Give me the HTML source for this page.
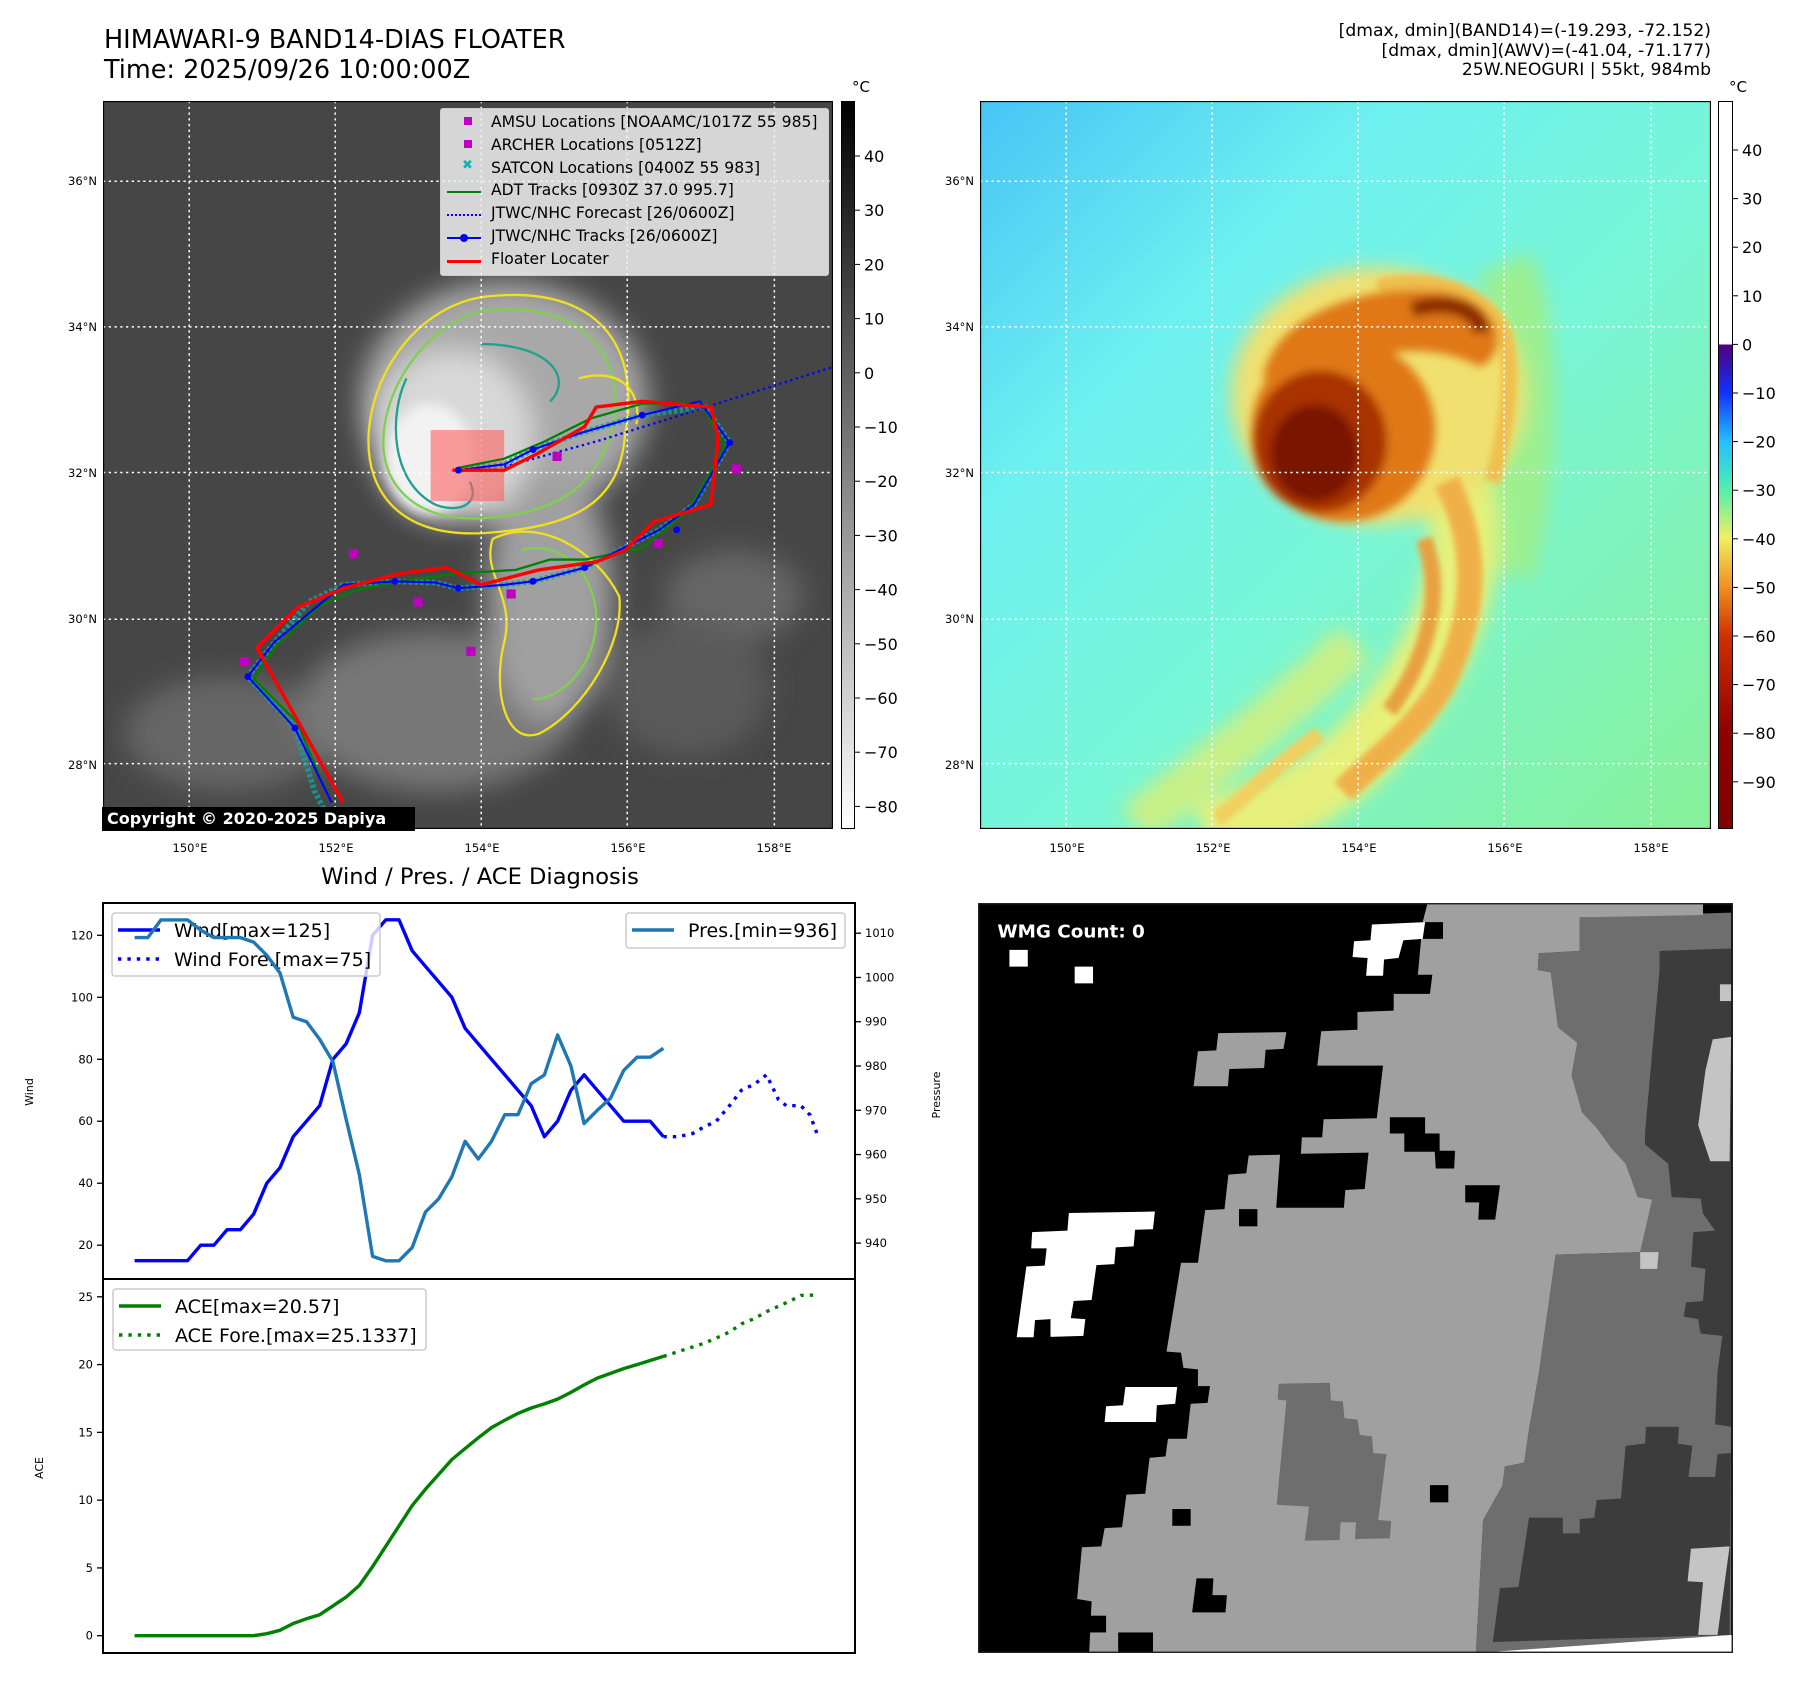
<!DOCTYPE html>
<html><head><meta charset="utf-8">
<style>
body{margin:0;background:#fff;}
#root{position:relative;width:1797px;height:1690px;overflow:hidden;background:#fff;font-family:"DejaVu Sans","Liberation Sans",sans-serif;}
.abs{position:absolute;}
svg text{font-family:"DejaVu Sans","Liberation Sans",sans-serif;}
</style></head>
<body>
<div id="root">

<div class="abs" style="left:104px;top:25px;font-size:25.5px;line-height:30px;color:#000;white-space:nowrap;">HIMAWARI-9 BAND14-DIAS FLOATER<br>Time: 2025/09/26 10:00:00Z</div>
<div class="abs" style="right:86px;top:22px;font-size:17.2px;line-height:19.5px;text-align:right;white-space:nowrap;">[dmax, dmin](BAND14)=(-19.293, -72.152)<br>[dmax, dmin](AWV)=(-41.04, -71.177)<br>25W.NEOGURI | 55kt, 984mb</div>

<!-- LEFT MAP -->
<svg class="abs" style="left:103px;top:101px" width="730" height="728" viewBox="91 88 635 635" preserveAspectRatio="none">
<defs>
<filter id="bl" x="-50%" y="-50%" width="200%" height="200%"><feGaussianBlur stdDeviation="12"/></filter>
<filter id="bl2" x="-50%" y="-50%" width="200%" height="200%"><feGaussianBlur stdDeviation="5"/></filter>
<clipPath id="c1"><rect x="91" y="88" width="635" height="635"/></clipPath>
</defs>
<g clip-path="url(#c1)">
<rect x="91" y="88" width="635" height="635" fill="#464646"/>
<g filter="url(#bl)">
<ellipse cx="200" cy="640" rx="90" ry="50" fill="#666"/>
<ellipse cx="380" cy="620" rx="120" ry="70" fill="#777"/>
<ellipse cx="640" cy="520" rx="60" ry="40" fill="#666"/>
<ellipse cx="600" cy="600" rx="70" ry="60" fill="#5a5a5a"/>
<ellipse cx="440" cy="350" rx="125" ry="105" fill="#a8a8a8"/>
<ellipse cx="480" cy="520" rx="55" ry="110" fill="#a0a0a0"/>
<ellipse cx="395" cy="380" rx="70" ry="75" fill="#d8d8d8"/>
</g>
<ellipse cx="375" cy="400" rx="38" ry="48" fill="#f2f2f2" filter="url(#bl2)"/>
<g fill="none" stroke-width="2">
<path d="M430,258 C520,250 560,300 545,380 C540,440 500,460 420,465 C350,468 320,430 322,380 C325,320 370,262 430,258Z" stroke="#f0e020"/>
<path d="M430,270 C510,265 545,310 535,370 C520,430 480,448 420,452 C360,455 332,420 335,380 C338,330 380,275 430,270Z" stroke="#80d050"/>
<path d="M420,300 C480,300 500,330 480,350 M355,330 C340,360 340,420 380,440 C400,448 420,440 410,420" stroke="#20a090"/>
<path d="M430,470 C470,450 520,480 540,520 C545,560 510,620 470,640 C440,650 430,600 440,560 C450,520 420,500 430,470Z" stroke="#f0e020"/>
<path d="M455,480 C490,470 520,500 520,540 C520,580 490,610 465,610" stroke="#80d050"/>
<path d="M505,330 C540,320 560,340 555,370" stroke="#f0e020"/>
</g>
<g stroke="#fff" stroke-width="1.3" stroke-dasharray="2,3">
<line x1="166" y1="88" x2="166" y2="723"/><line x1="293" y1="88" x2="293" y2="723"/><line x1="420" y1="88" x2="420" y2="723"/><line x1="547" y1="88" x2="547" y2="723"/><line x1="675" y1="88" x2="675" y2="723"/>
<line x1="91" y1="158" x2="726" y2="158"/><line x1="91" y1="285" x2="726" y2="285"/><line x1="91" y1="412" x2="726" y2="412"/><line x1="91" y1="540" x2="726" y2="540"/><line x1="91" y1="666" x2="726" y2="666"/>
</g>
<rect x="376" y="375" width="64" height="62" fill="#ff6060" opacity="0.6"/>
<g fill="none">
<polyline points="292,723 275,690 258,635 217,590 238,563 270,525 300,510 345,507 380,508 400,513 440,510 465,507 510,495 575,462 605,440 636,386 615,355 560,362 505,378 465,392 440,405 400,410" stroke="#11a0a0" stroke-width="5" stroke-dasharray="3,2" opacity="0.8"/>
<polyline points="285,690 260,630 222,592 240,565 280,528 310,515 360,505 400,500 450,497 480,488 510,488 560,478 600,445 632,390 612,352 560,352 515,365 475,385 440,400 400,408" stroke="#008000" stroke-width="2"/>
<polyline points="290,700 258,635 217,590 240,560 300,510 345,507 380,508 400,513 440,510 465,507 510,495 575,462 605,440 636,386 610,350 560,362 505,378 465,392 440,405 400,410" stroke="#0000ff" stroke-width="1.8"/>
<polyline points="440,407 520,385 600,360 726,320" stroke="#0000ff" stroke-width="2" stroke-dasharray="2,3"/>
<polyline points="300,700 250,610 225,565 260,530 300,513 350,500 390,495 420,510 470,497 520,490 545,480 570,455 620,440 626,382 620,355 560,350 520,355 510,372 470,395 440,410 395,410" stroke="#ff0000" stroke-width="3"/>
<g fill="#0000ff"><circle cx="217" cy="590" r="3"/><circle cx="258" cy="635" r="3"/><circle cx="345" cy="507" r="3"/><circle cx="400" cy="513" r="3"/><circle cx="465" cy="507" r="3"/><circle cx="510" cy="495" r="3"/><circle cx="590" cy="462" r="3"/><circle cx="636" cy="386" r="3"/><circle cx="560" cy="362" r="3"/><circle cx="465" cy="392" r="3"/><circle cx="400" cy="410" r="3"/></g>
<g fill="#c000c0"><rect x="305" y="479" width="8" height="8"/><rect x="407" y="564" width="8" height="8"/><rect x="482" y="394" width="8" height="8"/><rect x="638" y="405" width="8" height="8"/><rect x="570" y="470" width="8" height="8"/><rect x="442" y="514" width="8" height="8"/><rect x="210" y="573" width="8" height="8"/><rect x="361" y="521" width="8" height="8"/></g>
</g>
</g>
<rect x="91" y="88" width="635" height="635" fill="none" stroke="#000" stroke-width="2"/>
</svg>
<div class="abs" style="left:102px;top:807px;width:313px;height:24px;background:#000;color:#fff;font-weight:bold;font-size:16px;line-height:24px;padding-left:5px;box-sizing:border-box;white-space:nowrap;">Copyright © 2020-2025 Dapiya</div>

<!-- legend of left map -->
<div class="abs" style="left:440px;top:108px;width:387px;height:166px;background:rgba(240,240,240,0.85);border:1px solid #ccc;border-radius:3px;font-size:15.6px;">
<div style="position:absolute;left:23px;top:8px;width:8px;height:8px;background:#c000c0"></div>
<div style="position:absolute;left:23px;top:31px;width:8px;height:8px;background:#c000c0"></div>
<div style="position:absolute;left:21px;top:49px;color:#11b5b5;font-size:13px;font-weight:bold">✖</div>
<div style="position:absolute;left:6px;top:82px;width:34px;height:2px;background:#008000"></div>
<div style="position:absolute;left:6px;top:105px;width:34px;border-top:2px dotted #0000ff"></div>
<div style="position:absolute;left:6px;top:128px;width:34px;height:2px;background:#0000ff"></div>
<div style="position:absolute;left:19px;top:125px;width:8px;height:8px;border-radius:50%;background:#0000ff"></div>
<div style="position:absolute;left:6px;top:151px;width:34px;height:3px;background:#ff0000"></div>
<div style="position:absolute;left:50px;top:2px;line-height:22.8px;white-space:nowrap;">AMSU Locations [NOAAMC/1017Z 55 985]<br>ARCHER Locations [0512Z]<br>SATCON Locations [0400Z 55 983]<br>ADT Tracks [0930Z 37.0 995.7]<br>JTWC/NHC Forecast [26/0600Z]<br>JTWC/NHC Tracks [26/0600Z]<br>Floater Locater</div>
</div>

<!-- left colorbar -->
<div class="abs" style="left:841px;top:101px;width:14px;height:728px;border:1px solid #000;box-sizing:border-box;background:linear-gradient(#000,#fff);"></div>
<div class="abs" style="left:852px;top:78px;font-size:15px;">°C</div>
<svg class="abs" style="left:855px;top:0" width="60" height="860" id="cb1"></svg>

<!-- RIGHT MAP -->
<svg class="abs" style="left:980px;top:101px" width="731" height="728" viewBox="854 88 636 635" preserveAspectRatio="none">
<defs>
<linearGradient id="bg2" x1="0" y1="0" x2="1" y2="1">
<stop offset="0" stop-color="#48c4f6"/><stop offset="0.28" stop-color="#6ef0f0"/><stop offset="0.55" stop-color="#78f6d8"/><stop offset="1" stop-color="#88f098"/></linearGradient>
<filter id="b3" x="-50%" y="-50%" width="200%" height="200%"><feGaussianBlur stdDeviation="8"/></filter>
<filter id="b4" x="-50%" y="-50%" width="200%" height="200%"><feGaussianBlur stdDeviation="4"/></filter>
<filter id="b5" x="-50%" y="-50%" width="200%" height="200%"><feGaussianBlur stdDeviation="2.5"/></filter>
<clipPath id="c2"><rect x="854" y="88" width="636" height="635"/></clipPath>
</defs>
<g clip-path="url(#c2)">
<rect x="854" y="88" width="636" height="635" fill="url(#bg2)"/>
<g filter="url(#b3)">
<path d="M1310,230 C1340,300 1330,420 1310,500" stroke="#9cf090" stroke-width="50" fill="none"/>
<path d="M1250,390 C1300,460 1270,560 1200,640 C1150,700 1080,720 1050,730" stroke="#e6f07a" stroke-width="60" fill="none"/>
<path d="M1180,560 C1120,620 1050,670 990,720" stroke="#c8f088" stroke-width="40" fill="none"/>
<ellipse cx="1200" cy="345" rx="128" ry="112" fill="#f0e070"/>
</g>
<g filter="url(#b5)" fill="none" stroke="#f0b048">
<path d="M1260,420 C1290,480 1285,540 1255,600 C1230,640 1200,660 1170,690" stroke-width="22"/>
<path d="M1240,470 C1260,520 1240,580 1210,620" stroke="#e8a040" stroke-width="14"/>
<path d="M1150,640 C1120,660 1090,690 1060,715" stroke="#f0d060" stroke-width="14"/>
<path d="M1200,250 C1240,240 1290,250 1310,290 C1320,330 1310,380 1300,420" stroke="#f0c050" stroke-width="14"/>
</g>
<g filter="url(#b4)">
<path d="M1100,330 C1110,270 1200,245 1260,255 C1300,265 1320,300 1290,320 C1250,300 1200,300 1160,330Z" fill="#e07818"/>
<ellipse cx="1170" cy="375" rx="80" ry="80" fill="#e07818"/>
<ellipse cx="1150" cy="385" rx="58" ry="62" fill="#a83000"/>
<ellipse cx="1145" cy="395" rx="38" ry="42" fill="#7a1400"/>
<path d="M1230,270 C1260,260 1290,270 1290,290" stroke="#8a2a00" stroke-width="14" fill="none"/>
</g>
<g stroke="#fff" stroke-width="1.3" stroke-dasharray="2,3">
<line x1="929" y1="88" x2="929" y2="723"/><line x1="1056" y1="88" x2="1056" y2="723"/><line x1="1183" y1="88" x2="1183" y2="723"/><line x1="1310" y1="88" x2="1310" y2="723"/><line x1="1438" y1="88" x2="1438" y2="723"/>
<line x1="854" y1="158" x2="1490" y2="158"/><line x1="854" y1="285" x2="1490" y2="285"/><line x1="854" y1="412" x2="1490" y2="412"/><line x1="854" y1="540" x2="1490" y2="540"/><line x1="854" y1="666" x2="1490" y2="666"/>
</g>
</g>
<rect x="854" y="88" width="636" height="635" fill="none" stroke="#000" stroke-width="2"/>
</svg>
<div class="abs" style="left:1718px;top:101px;width:15px;height:728px;border:1px solid #000;box-sizing:border-box;background:linear-gradient(#fff 0%,#fff 33.3%,#500080 33.5%,#1030ff 40%,#20c0ff 46.7%,#50f0b0 53.4%,#f0f060 60%,#f09020 66.8%,#d03000 73.5%,#900000 86.8%,#800000 100%);"></div>
<div class="abs" style="left:1729px;top:78px;font-size:15px;">°C</div>
<svg class="abs" style="left:1733px;top:0" width="64" height="860" id="cb2"></svg>

<!-- map axis labels -->
<svg class="abs" style="left:0;top:0" width="1797" height="860" id="maplabels"></svg>

<!-- BOTTOM CHART -->
<svg class="abs" style="left:0;top:860px" width="960" height="830" viewBox="0 860 960 830" id="chart"></svg>

<!-- BOTTOM RIGHT -->
<svg class="abs" style="left:978px;top:903px" width="755" height="750" viewBox="0 0 1562 1568" preserveAspectRatio="none">
<rect x="0" y="0" width="1562" height="1568" fill="#000"/>
<polygon fill="#6e6e6e" points="1245,30 1558,20 1558,1568 1030,1568 1045,1290 1085,1218 1090,1178 1130,1170 1140,1100 1160,985 1195,735 1370,730 1395,620 1365,615 1340,545 1310,512 1280,470 1250,438 1228,360 1240,292 1200,260 1185,145 1158,140 1160,105 1245,100"/>
<polygon fill="#a0a0a0" points="930,0 1500,0 1500,25 1245,30 1245,100 1160,105 1158,140 1185,145 1200,260 1240,292 1228,360 1250,438 1280,470 1310,512 1340,545 1365,615 1395,620 1370,730 1195,735 1160,985 1140,1100 1130,1170 1090,1178 1085,1218 1045,1290 1030,1568 230,1568 235,1460 205,1455 215,1347 255,1345 262,1307 298,1305 307,1237 346,1235 355,1160 388,1157 393,1120 432,1120 440,1047 475,1045 480,1010 455,1010 455,975 425,972 420,940 390,938 420,752 455,752 470,642 510,640 518,568 555,565 560,528 668,525 670,490 712,490 715,452 825,450 838,340 702,340 710,268 785,265 785,228 860,225 860,190 935,190 940,150 910,150 920,40"/>
<polygon fill="#a0a0a0" points="497,272 638,270 632,305 595,307 592,345 520,347 517,383 446,383 455,310 493,308"/>
<polygon fill="#6e6e6e" points="622,1005 728,1003 730,1040 755,1042 758,1077 785,1080 790,1112 815,1115 818,1150 845,1152 828,1290 855,1292 852,1328 780,1330 782,1295 750,1295 748,1332 676,1333 685,1262 618,1258 638,1040 620,1038"/>
<polygon fill="#3c3c3c" points="1410,100 1558,95 1558,1150 1530,1152 1525,1200 1470,1200 1478,1135 1448,1130 1450,1095 1382,1095 1380,1130 1340,1135 1330,1245 1280,1248 1275,1285 1245,1288 1245,1318 1210,1318 1210,1285 1140,1285 1118,1430 1080,1432 1065,1545 1555,1530 1558,1095 1525,1090 1530,980 1540,905 1495,900 1490,870 1460,865 1465,835 1500,832 1505,765 1475,760 1480,688 1525,685 1500,650 1495,618 1435,615 1428,545 1380,505 1380,480 1410,140"/>
<g fill="#c4c4c4"><polygon points="1520,285 1558,280 1555,540 1515,540 1490,465 1505,350"/><polygon points="1535,170 1558,170 1558,205 1535,205"/><polygon points="1475,1350 1555,1345 1530,1530 1490,1530 1500,1420 1468,1418"/><polygon points="1370,730 1408,730 1405,765 1370,765"/></g>
<g fill="#000"><polygon points="625,525 808,522 800,598 760,600 757,637 617,637"/><polygon points="852,448 925,448 925,482 955,482 955,518 987,518 985,555 947,555 945,520 882,520 882,482 852,482"/><rect x="540" y="640" width="38" height="36"/><polygon points="1008,590 1080,590 1070,662 1035,662 1037,626 1008,626"/><rect x="935" y="1217" width="38" height="36"/><rect x="402" y="1267" width="38" height="35"/><polygon points="452,1412 487,1412 485,1447 515,1447 512,1483 443,1483"/><rect x="290" y="1525" width="72" height="43"/><rect x="225" y="1490" width="40" height="35"/><rect x="920" y="40" width="42" height="35"/></g>
<g fill="#fff"><polygon points="815,45 925,40 920,75 880,78 870,115 840,118 838,152 803,152 806,115 775,113 778,80 812,78"/><rect x="65" y="98" width="38" height="35"/><rect x="200" y="133" width="38" height="35"/><polygon points="188,648 366,645 362,682 325,683 322,718 285,720 282,755 245,757 235,830 198,832 192,868 222,870 218,905 150,907 150,870 118,872 115,908 80,908 100,760 138,758 142,722 110,722 112,688 185,685"/><polygon points="305,1012 412,1012 408,1047 370,1050 368,1085 262,1085 265,1052 300,1050"/><polygon points="1030,1568 1562,1568 1562,1530"/></g>
<text x="40" y="72" font-size="38" font-weight="bold" fill="#fff">WMG Count: 0</text>
<rect x="1" y="1" width="1560" height="1566" fill="none" stroke="#222" stroke-width="4"/>
</svg>

<script>
// ---- chart data ----
const obsIndex = [0,1,2,3,4,5,6,7,8,9,10,11,12,13,14,15,16,17,18,19,20,21,22,23,24,25,26,27,28,29,30,31,32,33,34,35,36,37,38,39,40];
const windObs = [15,15,15,15,15,20,20,25,25,30,40,45,55,60,65,80,85,95,120,125,125,115,110,105,100,90,85,80,75,70,65,55,60,70,75,70,65,60,60,60,55];
const presObs = [1009,1009,1013,1013,1013,1010.7,1009,1009,1009,1008,1005,1001,991,990,986,981,968,955.5,937,936,936,939,947,950,955,963,959,963,969,969,976,978,987,980,967,970,972.7,979,982,982,984];
const aceObs = [0,0,0,0,0,0,0,0,0,0,0.15,0.4,0.9,1.25,1.55,2.2,2.85,3.7,5.1,6.6,8.1,9.6,10.8,11.9,13.0,13.8,14.6,15.35,15.9,16.4,16.8,17.1,17.45,17.95,18.5,19.0,19.35,19.7,20.0,20.3,20.6];
const windForeIndex = [40,41.1,42.2,43.0,44.0,45.0,45.9,46.9,47.8,48.7,49.3,50.4,51.1,51.7];
const windFore = [55,55,56,58,60,65,70,72,75,67,65,65,62,55];
const aceForeIndex = [40,41.1,42.2,43.0,44.0,45.0,45.9,46.9,47.8,48.7,49.6,50.4,51.7];
const aceFore = [20.6,20.95,21.3,21.55,21.95,22.4,23.0,23.4,23.9,24.3,24.7,25.1,25.13];
const windTicks = [20,40,60,80,100,120];
const presTicks = [940,950,960,970,980,990,1000,1010];
const aceTicks = [0,5,10,15,20,25];

const NS='http://www.w3.org/2000/svg';
function mk(parent,tag,attrs,txt){const e=document.createElementNS(NS,tag);for(const k in attrs)e.setAttribute(k,attrs[k]);if(txt!==undefined)e.textContent=txt;parent.appendChild(e);return e;}
const xI = i => 134.6 + i*13.22;
const yW = v => 935.3 + (120-v)*3.099;
const yP = p => 933.2 + (1010-p)*4.427;
const yA = a => 1635.7 - a*13.556;
const L=103,R=855,T=903,M=1279,B=1653;
const ch=document.getElementById('chart');

function line(xs,ys,color,w,dash,name){
  const pts=xs.map((x,i)=>x.toFixed(1)+','+ys[i].toFixed(1)).join(' ');
  const p=mk(ch,'polyline',{points:pts,fill:'none',stroke:color,'stroke-width':w,'stroke-linejoin':'round'});
  if(dash)p.setAttribute('stroke-dasharray',dash);
  
  
}
const tt=mk(ch,'text',{x:480,y:884,'font-size':22.6,'text-anchor':'middle'},'Wind / Pres. / ACE Diagnosis');



windTicks.forEach(v=>{
  mk(ch,'line',{x1:L-6,x2:L,y1:yW(v),y2:yW(v),stroke:'#000','stroke-width':1.3});
  const t=mk(ch,'text',{x:L-10,y:yW(v)+4,'font-size':11.5,'text-anchor':'end'},v);
  
  
});
presTicks.forEach(v=>{
  mk(ch,'line',{x1:R,x2:R+6,y1:yP(v),y2:yP(v),stroke:'#000','stroke-width':1.3});
  const t=mk(ch,'text',{x:R+10,y:yP(v)+4,'font-size':11.5},v);
  
  
});
aceTicks.forEach(v=>{
  mk(ch,'line',{x1:L-6,x2:L,y1:yA(v),y2:yA(v),stroke:'#000','stroke-width':1.3});
  const t=mk(ch,'text',{x:L-10,y:yA(v)+4,'font-size':11.5,'text-anchor':'end'},v);
  
  
});
[['Wind',33,1092,'wind-axis-title'],['Pressure',940,1095,'pressure-axis-title'],['ACE',43,1468,'ace-axis-title']].forEach(a=>{
  const t=mk(ch,'text',{x:a[1],y:a[2],'font-size':11,'text-anchor':'middle',transform:`rotate(-90 ${a[1]} ${a[2]})`},a[0]);
  
  
});

line(obsIndex.map(xI),windObs.map(yW),'#0000ff',3.4,null,'wind-line');
line(windForeIndex.map(xI),windFore.map(yW),'#0000ff',3.4,'3.4,6','wind-forecast-line');
function legend(x,y,w,h,items,name){
  const g=mk(ch,'g',{});
  
  
  mk(g,'rect',{x:x,y:y,width:w,height:h,rx:3,fill:'#fff','fill-opacity':0.8,stroke:'#ccc','stroke-width':1.5});
  items.forEach((it,i)=>{
    const cy=y+17+i*29;
    const l=mk(g,'line',{x1:x+6,x2:x+48,y1:cy,y2:cy,stroke:it[1],'stroke-width':3.4});
    if(it[2])l.setAttribute('stroke-dasharray','3.4,6');
    mk(g,'text',{x:x+62,y:cy+7,'font-size':19},it[0]);
  });
}
legend(112,913,268,63,[['Wind[max=125]','#0000ff',0],['Wind Fore.[max=75]','#0000ff',1]],'wind-legend');
line(obsIndex.map(xI),presObs.map(yP),'#1f77b4',3.4,null,'pressure-line');
legend(626,913,219,35,[['Pres.[min=936]','#1f77b4',0]],'pressure-legend');
line(obsIndex.map(xI),aceObs.map(yA),'#008000',3.4,null,'ace-line');
line(aceForeIndex.map(xI),aceFore.map(yA),'#008000',3.4,'3.4,6','ace-forecast-line');
legend(113,1289,313,61,[['ACE[max=20.57]','#008000',0],['ACE Fore.[max=25.1337]','#008000',1]],'ace-legend');
mk(ch,'rect',{x:L,y:T,width:R-L,height:M-T,fill:'none',stroke:'#000','stroke-width':2});
mk(ch,'rect',{x:L,y:M,width:R-L,height:B-M,fill:'none',stroke:'#000','stroke-width':2});

const cb1Ticks=[40,30,20,10,0,-10,-20,-30,-40,-50,-60,-70,-80];
const cb2Ticks=[40,30,20,10,0,-10,-20,-30,-40,-50,-60,-70,-80,-90];
const cb1=document.getElementById('cb1');
cb1Ticks.forEach((v,i)=>{const y=156+i*54.2;mk(cb1,'line',{x1:0,x2:5,y1:y,y2:y,stroke:'#000'});
  const t=mk(cb1,'text',{x:9,y:y+6,'font-size':16},v<0?'\u2212'+(-v):v);
  
  });
const cb2=document.getElementById('cb2');
cb2Ticks.forEach((v,i)=>{const y=150+i*48.6;mk(cb2,'line',{x1:0,x2:5,y1:y,y2:y,stroke:'#000'});
  const t=mk(cb2,'text',{x:9,y:y+6,'font-size':16},v<0?'\u2212'+(-v):v);
  
  });

const lonLabels=['150°E','152°E','154°E','156°E','158°E'];
const latLabels=['36°N','34°N','32°N','30°N','28°N'];
const ml=document.getElementById('maplabels');
[[190,97],[1067,974]].forEach(o=>{
  lonLabels.forEach((s,i)=>{const t=mk(ml,'text',{x:o[0]+i*146,y:852,'font-size':11.5,'text-anchor':'middle'},s);
    
    });
  latLabels.forEach((s,i)=>{const t=mk(ml,'text',{x:o[1],y:185+i*146,'font-size':11.5,'text-anchor':'end'},s);
    
    });
});
</script>
</div>
</body></html>
